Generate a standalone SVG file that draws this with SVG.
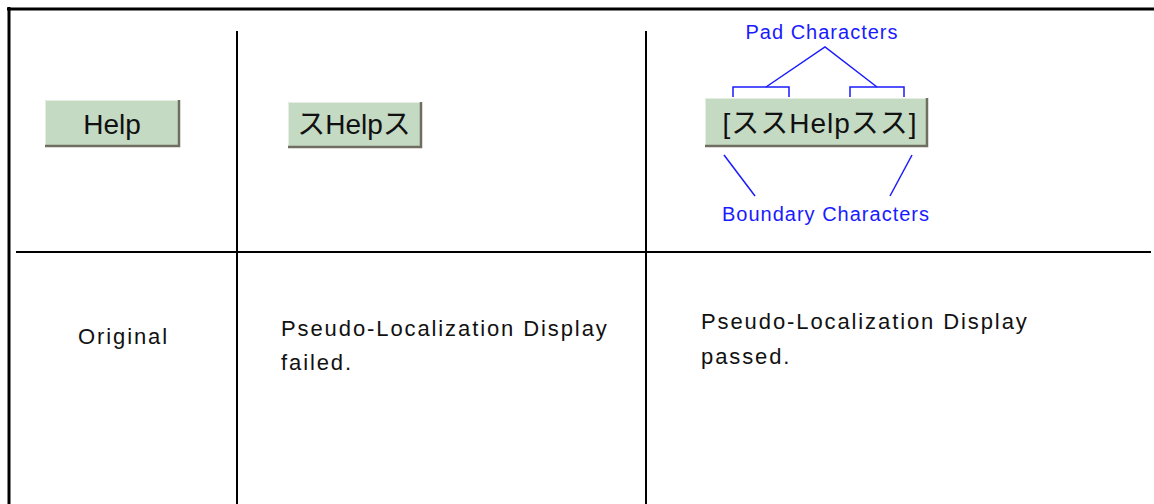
<svg xmlns="http://www.w3.org/2000/svg" width="1154" height="504" viewBox="0 0 1154 504">
<style>
.grid{stroke:#000;fill:none}
.btn{fill:#c4dac2}
.shadow{stroke:#6f6e60;stroke-width:2.5;fill:none}
.hl{stroke:#e6eee4;stroke-width:1;fill:none}
.btxt{font-family:"Liberation Sans","Noto Sans CJK JP",sans-serif;font-size:28px;fill:#111;text-anchor:middle}
.body{font-family:"Liberation Sans",sans-serif;font-size:22px;letter-spacing:1.9px;fill:#111}
.note{font-family:"Liberation Sans",sans-serif;font-size:20px;letter-spacing:1px;fill:#1a1aff;text-anchor:middle}
.ann{stroke:#1a1aff;stroke-width:1.5;fill:none}
</style>
<rect width="1154" height="504" fill="#fff"/>
<g id="table">
<line class="grid" x1="7" y1="9" x2="1154" y2="9" stroke-width="3"/>
<line class="grid" x1="9" y1="7" x2="9" y2="504" stroke-width="3"/>
<line class="grid" x1="237" y1="31" x2="237" y2="504" stroke-width="2"/>
<line class="grid" x1="646" y1="31" x2="646" y2="504" stroke-width="2"/>
<line class="grid" x1="16" y1="252" x2="1151" y2="252" stroke-width="2"/>
</g>
<g id="button-original">
<rect class="btn" x="45" y="100" width="135" height="47"/>
<polyline class="hl" points="45.5,146 45.5,100.5 179,100.5"/>
<polyline class="shadow" points="45,146 179,146 179,100"/>
<text class="btxt" x="112" y="134">Help</text>
</g>
<g id="button-failed">
<rect class="btn" x="288" y="102" width="134" height="46"/>
<polyline class="hl" points="288.5,147 288.5,102.5 421,102.5"/>
<polyline class="shadow" points="288,147 421,147 421,102"/>
<text class="btxt" x="354" y="134">スHelpス</text>
</g>
<g id="button-passed">
<rect class="btn" x="705" y="98" width="223" height="49"/>
<polyline class="hl" points="705.5,146 705.5,98.5 927,98.5"/>
<polyline class="shadow" points="705,146 927,146 927,98"/>
<text class="btxt" x="820" y="133" letter-spacing="1">[ススHelpスス]</text>
</g>
<g id="label-original">
<text class="body" x="78" y="344">Original</text>
</g>
<g id="label-failed">
<text class="body" x="281" y="336">Pseudo-Localization Display</text>
<text class="body" x="281" y="370">failed.</text>
</g>
<g id="label-passed">
<text class="body" x="701" y="329">Pseudo-Localization Display</text>
<text class="body" x="701" y="364">passed.</text>
</g>
<g id="label-pad">
<text class="note" x="822" y="39">Pad Characters</text>
</g>
<g id="label-boundary">
<text class="note" x="826" y="221">Boundary Characters</text>
</g>
<g id="connectors">
<polyline class="ann" points="733,97 733,87 789,87 789,97"/>
<polyline class="ann" points="850,97 850,87 904,87 904,97"/>
<polyline class="ann" points="766,87 825,47 877,87"/>
<line class="ann" x1="724" y1="155" x2="755" y2="196"/>
<line class="ann" x1="912" y1="155" x2="890" y2="196"/>
</g>
</svg>
